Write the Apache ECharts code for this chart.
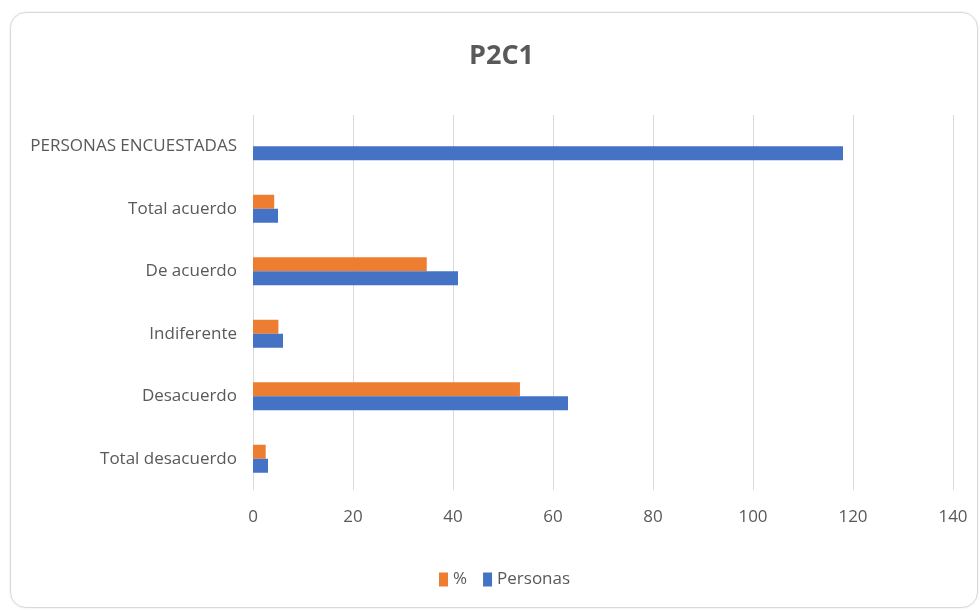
<!DOCTYPE html>
<html>
<head>
<meta charset="utf-8">
<script src="https://cdn.jsdelivr.net/npm/echarts@6/dist/echarts.min.js"></script>
<style>
  html, body { margin: 0; padding: 0; background: #fff; }
  #card {
    position: absolute; left: 10px; top: 12px; width: 966px; height: 594px;
    border: 1px solid #d9d9d9; border-radius: 16px; box-shadow: 0 0 2px rgba(0,0,0,0.12);
  }
  #chart { position: absolute; left: 0; top: 0; width: 980px; height: 610px; }
</style>
</head>
<body>
<div id="card"></div>
<div id="chart"></div>
<script>
// categorias de abajo hacia arriba (eje de categorias en y)
const categorias = ["Total desacuerdo", "Desacuerdo", "Indiferente", "De acuerdo", "Total acuerdo", "PERSONAS ENCUESTADAS"];
const personas = [3, 63, 6, 41, 5, 118];
const porcentaje = [2.54, 53.39, 5.08, 34.75, 4.24, null];
const ticksX = [0, 20, 40, 60, 80, 100, 120, 140];

const fuente = "'Open Sans', sans-serif";
const chart = echarts.init(document.getElementById("chart"));

const opt = {
    animation: false,
    title: {
        text: "P2C1",
        left: 464,
        top: 38,
        textStyle: { fontFamily: fuente, fontSize: 27, fontWeight: "bold", color: "#595959" }
    },
    legend: {
        left: 434,
        top: 566,
        icon: "rect",
        itemWidth: 9,
        itemHeight: 14,
        itemGap: 16,
        textStyle: { fontFamily: fuente, fontSize: 17, color: "#595959" },
        data: ["%", "Personas"]
    },
    grid: { left: 253, right: 27, top: 115, bottom: 120 },
    xAxis: {
        type: "value",
        min: ticksX[0],
        max: ticksX[ticksX.length - 1],
        interval: 20,
        axisLine: { show: false },
        axisTick: { show: false },
        splitLine: { lineStyle: { color: "#d9d9d9", width: 1 } },
        axisLabel: { margin: 19, fontFamily: fuente, fontSize: 17, color: "#595959" }
    },
    yAxis: {
        type: "category",
        data: categorias,
        axisLine: { show: false },
        axisTick: { show: false },
        axisLabel: { margin: 16, fontFamily: fuente, fontSize: 17, color: "#595959" }
    },
    series: [
        {
            name: "%",
            type: "bar",
            data: porcentaje,
            barWidth: 14,
            barGap: "0%",
            itemStyle: { color: "#ED7D31" }
        },
        {
            name: "Personas",
            type: "bar",
            data: personas,
            barWidth: 14,
            barGap: "0%",
            itemStyle: { color: "#4472C4" }
        }
    ]
};
chart.setOption(opt);
</script>
</body>
</html>
